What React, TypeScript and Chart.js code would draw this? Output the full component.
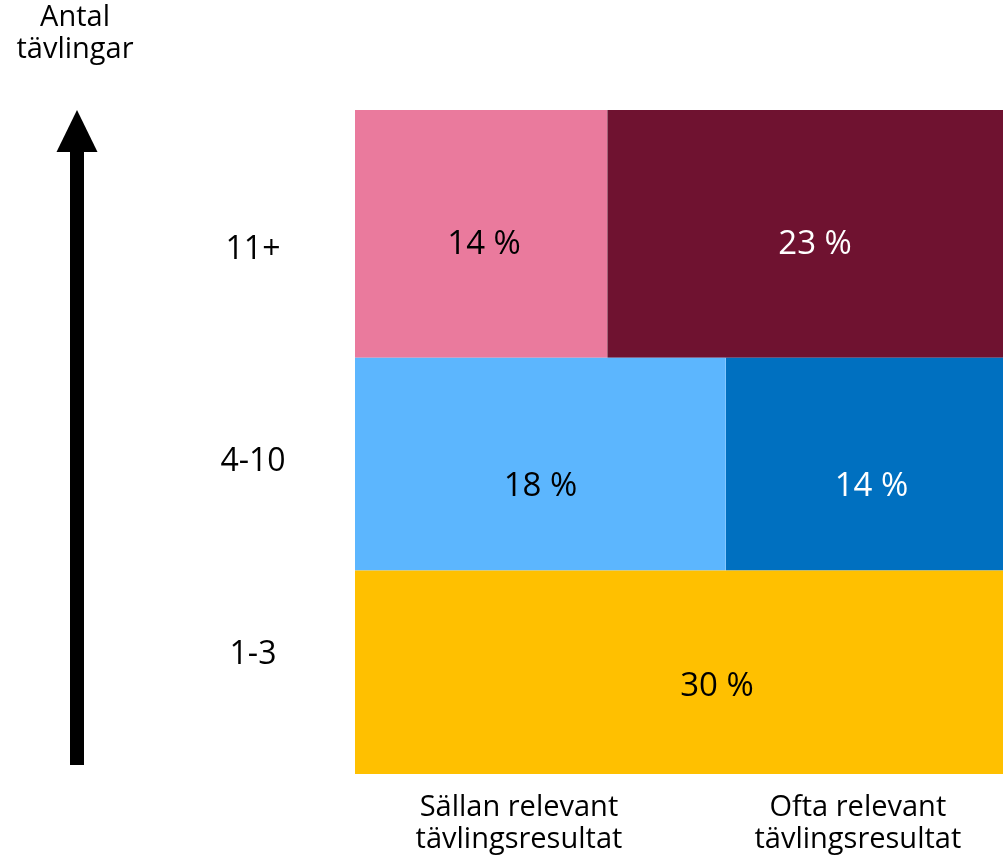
import React, { useEffect, useRef } from "react";
import { Chart, registerables } from "chart.js";

Chart.register(...registerables);

// Rows from bottom to top
const rowLabels = ["1-3", "4-10", "11+"];
// Share (%) of respondents that rarely / often find results relevant, per row (labels show rounded values)
const sallan = [null, 18.2, 14.4];
const ofta = [null, 13.6, 22.6];
// Bottom row is shown as one undivided block
const combined = [30.4, null, null];
const columnLabels = [
  ["Sällan relevant", "tävlingsresultat"],
  ["Ofta relevant", "tävlingsresultat"],
];
const axisTitle = ["Antal", "tävlingar"];

const colors = {
  combined: "#FFC000",
  sallan: ["#FFC000", "#5CB6FE", "#EA7A9D"],
  ofta: ["#FFC000", "#0070C0", "#6F1230"],
};
const labelColors = {
  combined: "#000000",
  sallan: ["#000000", "#000000", "#000000"],
  ofta: ["#000000", "#FFFFFF", "#FFFFFF"],
};

const FONT = "'Open Sans', sans-serif";

type Rect = { x0: number; x1: number; y0: number; y1: number; color: string; text: string; textColor: string };

function buildRects(): Rect[] {
  const rects: Rect[] = [];
  let base = 0;
  rowLabels.forEach((_, i) => {
    const c = combined[i];
    const s = sallan[i];
    const o = ofta[i];
    if (c != null) {
      rects.push({ x0: 0, x1: 100, y0: base, y1: base + c, color: colors.combined, text: `${Math.round(c)} %`, textColor: labelColors.combined });
      base += c;
    } else if (s != null && o != null) {
      const total = s + o;
      const split = (s / total) * 100;
      rects.push({ x0: 0, x1: split, y0: base, y1: base + total, color: colors.sallan[i], text: `${Math.round(s)} %`, textColor: labelColors.sallan[i] });
      rects.push({ x0: split, x1: 100, y0: base, y1: base + total, color: colors.ofta[i], text: `${Math.round(o)} %`, textColor: labelColors.ofta[i] });
      base += total;
    }
  });
  return rects;
}

function rowBounds() {
  const out: { lo: number; hi: number }[] = [];
  let base = 0;
  rowLabels.forEach((_, i) => {
    const t = combined[i] != null ? (combined[i] as number) : (sallan[i] as number) + (ofta[i] as number);
    out.push({ lo: base, hi: base + t });
    base += t;
  });
  return out;
}

export default function App() {
  const ref = useRef<HTMLCanvasElement | null>(null);

  useEffect(() => {
    if (!ref.current) return;
    const rects = buildRects();
    const rows = rowBounds();
    const yMax = rows[rows.length - 1].hi;

    const datasets = rects.map((r) => ({
      data: [
        { x: r.x0, y: r.y1 },
        { x: r.x1, y: r.y1 },
      ],
      showLine: true,
      borderWidth: 0,
      borderColor: r.color,
      backgroundColor: r.color,
      pointRadius: 0,
      fill: { value: r.y0 },
    }));

    // layout nudges (pixels) for text placement
    const valueOffsets = [
      [38, 14],
      [0, 23],
      [7, 23],
      [3, 11],
      [10, 11],
    ];
    const rowLabelOffsets = [-17, -2, 16];

    const overlay = {
      id: "overlay",
      afterDatasetsDraw(chart: any) {
        const ctx = chart.ctx as CanvasRenderingContext2D;
        const xs = chart.scales.x;
        const ys = chart.scales.y;
        ctx.save();
        ctx.textAlign = "center";
        ctx.textBaseline = "middle";
        // Value labels
        ctx.font = `33px ${FONT}`;
        rects.forEach((r, k) => {
          const off = valueOffsets[k] || [0, 0];
          const cx = (xs.getPixelForValue(r.x0) + xs.getPixelForValue(r.x1)) / 2 + off[0];
          const cy = (ys.getPixelForValue(r.y0) + ys.getPixelForValue(r.y1)) / 2 + off[1];
          ctx.fillStyle = r.textColor;
          ctx.fillText(r.text, cx, cy);
        });
        // Row labels
        ctx.fillStyle = "#000000";
        ctx.font = `32px ${FONT}`;
        rows.forEach((b, i) => {
          const cy = (ys.getPixelForValue(b.lo) + ys.getPixelForValue(b.hi)) / 2 + rowLabelOffsets[i];
          ctx.fillText(rowLabels[i], 253, cy);
        });
        // Column labels
        ctx.font = `29px ${FONT}`;
        const colX = [xs.getPixelForValue(25.3), xs.getPixelForValue(77.6)];
        columnLabels.forEach((lines, j) => {
          lines.forEach((t, k) => {
            ctx.fillText(t, colX[j], 808 + k * 32);
          });
        });
        // Axis title
        axisTitle.forEach((t, k) => ctx.fillText(t, 75, 18 + k * 32));
        // Arrow
        const top = ys.getPixelForValue(yMax);
        ctx.fillStyle = "#000000";
        ctx.fillRect(70, top + 38, 14, 765 - (top + 38));
        ctx.beginPath();
        ctx.moveTo(77, top);
        ctx.lineTo(97.5, top + 42);
        ctx.lineTo(56.5, top + 42);
        ctx.closePath();
        ctx.fill();
        ctx.restore();
      },
    };

    const chart = new Chart(ref.current, {
      type: "scatter",
      data: { datasets: datasets as any },
      options: {
        animation: false,
        responsive: true,
        maintainAspectRatio: false,
        layout: { padding: { left: 355, right: 0, top: 110, bottom: 85 } },
        plugins: { legend: { display: false }, tooltip: { enabled: false } },
        scales: {
          x: { type: "linear", min: 0, max: 100, display: false },
          y: { type: "linear", min: 0, max: yMax, display: false },
        },
      },
      plugins: [overlay],
    });
    return () => chart.destroy();
  }, []);

  return (
    <div style={{ position: "absolute", left: 0, top: 0, width: 1003, height: 859, background: "#fff" }}>
      <canvas ref={ref} />
    </div>
  );
}
